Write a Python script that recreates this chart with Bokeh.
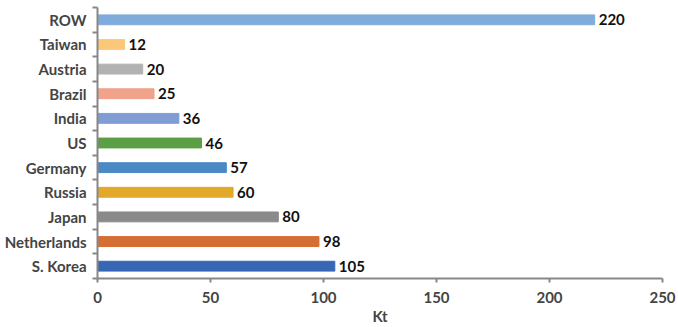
from bokeh.plotting import figure
from bokeh.models import ColumnDataSource, FixedTicker, Range1d
from bokeh.core.properties import value
from bokeh.embed import file_html
from bokeh.resources import INLINE

# Production by country, Kt (bottom to top)
countries = ["S. Korea", "Netherlands", "Japan", "Russia", "Germany", "US",
             "India", "Brazil", "Austria", "Taiwan", "ROW"]
kt = [105, 98, 80, 60, 57, 46, 36, 25, 20, 12, 220]
colors = ["#3767b4", "#d46e34", "#8a8a8a", "#e2a82a", "#4a89c4", "#5a9e46",
          "#7f9cd3", "#f0a28a", "#b2b2b2", "#fcc878", "#80acdc"]
x_ticks = [0, 50, 100, 150, 200, 250]

pos = list(range(len(countries)))
src = ColumnDataSource(dict(y=pos, kt=kt, color=colors,
                            label=[str(v) for v in kt]))

FONT = "Lato"
AXIS_GREY = "#878787"

p = figure(width=678, height=327, output_backend="svg", toolbar_location=None,
           x_range=Range1d(0, 250), y_range=Range1d(-0.5, len(countries) - 0.5),
           min_border_left=97, min_border_right=16, min_border_top=7,
           min_border_bottom=43)
p.outline_line_color = None
p.xgrid.grid_line_color = None
p.ygrid.grid_line_color = None

p.hbar(y="y", right="kt", left=0, height=0.4, color="color", source=src)
p.text(x="kt", y="y", text="label", source=src, x_offset=4,
       text_baseline="middle", text_align="left",
       text_font=value(FONT), text_font_style="bold",
       text_font_size="15px", text_color="#111111")

# x axis
xa = p.xaxis[0]
xa.ticker = FixedTicker(ticks=x_ticks)
xa.axis_label = "Kt"
xa.axis_label_text_font = FONT
xa.axis_label_text_font_style = "bold"
xa.axis_label_text_font_size = "15px"
xa.axis_label_standoff = 1
xa.major_label_text_font = FONT
xa.major_label_text_font_style = "bold"
xa.major_label_text_font_size = "15px"
xa.major_label_standoff = 9
xa.axis_line_color = AXIS_GREY
xa.axis_line_width = 2
xa.major_tick_line_color = AXIS_GREY
xa.major_tick_line_width = 2
xa.major_tick_out = 4
xa.major_tick_in = 0
xa.minor_tick_line_color = None

# y axis: labels at category centres, tick marks at category boundaries
ya = p.yaxis[0]
ya.ticker = FixedTicker(ticks=pos,
                        minor_ticks=[i - 0.5 for i in range(len(countries) + 1)])
ya.major_label_overrides = {i: c for i, c in zip(pos, countries)}
ya.major_label_text_font = FONT
ya.major_label_text_font_style = "bold"
ya.major_label_text_font_size = "15px"
ya.major_label_standoff = 6
ya.major_tick_line_color = None
ya.major_tick_out = 0
ya.major_tick_in = 0
ya.axis_line_color = AXIS_GREY
ya.axis_line_width = 2
ya.minor_tick_line_color = AXIS_GREY
ya.minor_tick_line_width = 2
ya.minor_tick_out = 5
ya.minor_tick_in = 0

open("out.html", "w").write(file_html(p, INLINE))
